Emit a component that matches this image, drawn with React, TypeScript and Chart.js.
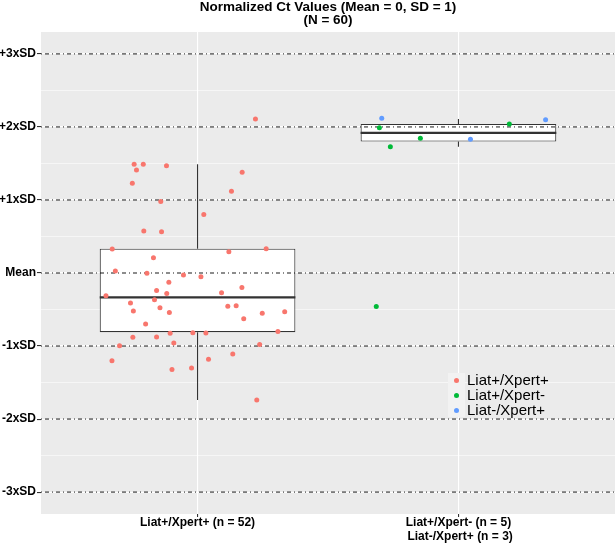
import React, { useEffect, useRef } from 'react';
import { Chart, registerables } from 'chart.js';

Chart.register(...registerables);

// ---- categories & axis labels ----
const categories = [1, 2];
const categoryLabels: (string | string[])[] = [
  'Liat+/Xpert+ (n = 52)',
  ['Liat+/Xpert- (n = 5)', ' Liat-/Xpert+ (n = 3)'],
];
const yTickValues = [-3, -2, -1, 0, 1, 2, 3];
const yTickLabels = ['-3xSD', '-2xSD', '-1xSD', 'Mean', '+1xSD', '+2xSD', '+3xSD'];
const yMinorValues = [-2.5, -1.5, -0.5, 0.5, 1.5, 2.5];

// ---- box statistics per category ----
const boxLow = [-1.74, 1.73];
const boxQ1 = [-0.81, 1.8];
const boxMedian = [-0.333, 1.92];
const boxQ3 = [0.333, 2.04];
const boxHigh = [1.49, 2.11];

// ---- jittered points: Liat+/Xpert+ ----
const posPosX = [
  0.757, 0.792, 0.766, 0.881, 1.171, 0.75, 1.13, 0.859, 1.024, 0.794, 0.862, 0.673, 1.12,
  1.263, 0.831, 0.685, 0.806, 0.946, 1.013, 0.89, 0.843, 1.17, 1.092, 0.882, 0.649, 0.835,
  0.743, 1.116, 1.148, 0.856, 0.754, 0.892, 1.177, 1.248, 1.334, 0.801, 0.895, 0.982, 1.032,
  1.308, 0.752, 0.843, 0.909, 0.701, 1.238, 0.672, 1.135, 1.042, 0.902, 0.977, 1.227, 1.222,
];
const posPosY = [
  1.49, 1.49, 1.41, 1.47, 1.38, 1.23, 1.12, 0.98, 0.8, 0.575, 0.566, 0.33, 0.29,
  0.333, 0.21, 0.027, -0.005, -0.027, -0.05, -0.128, -0.24, -0.2, -0.27, -0.28, -0.31, -0.365,
  -0.41, -0.456, -0.447, -0.475, -0.52, -0.54, -0.626, -0.55, -0.53, -0.7, -0.826, -0.817, -0.82,
  -0.8, -0.88, -0.877, -0.96, -0.995, -0.98, -1.2, -1.11, -1.18, -1.32, -1.3, -1.74, 2.11,
];

// ---- jittered points: Liat+/Xpert- ----
const posNegX = [1.697, 1.739, 1.854, 2.195, 1.685];
const posNegY = [1.99, 1.73, 1.845, 2.04, -0.46];

// ---- jittered points: Liat-/Xpert+ ----
const negPosX = [1.706, 2.046, 2.334];
const negPosY = [2.12, 1.83, 2.1];

const seriesNames = ['Liat+/Xpert+', 'Liat+/Xpert-', 'Liat-/Xpert+'];
const seriesColors = ['#F8766D', '#00BA38', '#619CFF'];

const FONT = "'Liberation Sans', Arial, Helvetica, sans-serif";
const X_MIN = 0.4;
const X_MAX = 2.6;
const BOX_HALF = 0.375;

const panelBg = {
  id: 'panelBg',
  beforeDraw(chart: any) {
    const { ctx, chartArea } = chart;
    if (!chartArea) return;
    ctx.save();
    ctx.fillStyle = '#EBEBEB';
    ctx.fillRect(chartArea.left, chartArea.top, chartArea.right - chartArea.left, chartArea.bottom - chartArea.top);
    ctx.restore();
  },
};

const isInt = (v: number) => Math.abs(v - Math.round(v)) < 1e-6;

export default function App() {
  const canvasRef = useRef<HTMLCanvasElement | null>(null);

  useEffect(() => {
    if (!canvasRef.current) return;
    const toPts = (xs: number[], ys: number[]) => xs.map((x, i) => ({ x, y: ys[i] }));

    const medianData: any[] = [];
    const whiskerData: any[] = [];
    categories.forEach((c, i) => {
      medianData.push({ x: c - BOX_HALF, y: boxMedian[i] }, { x: c + BOX_HALF, y: boxMedian[i] }, { x: c + 0.5, y: null });
      whiskerData.push(
        { x: c, y: boxQ3[i] }, { x: c, y: boxHigh[i] }, { x: c, y: null },
        { x: c, y: boxQ1[i] }, { x: c, y: boxLow[i] }, { x: c, y: null },
      );
    });
    const hlineData: any[] = [];
    yTickValues.forEach((v) => {
      hlineData.push({ x: X_MIN, y: v }, { x: X_MAX, y: v }, { x: X_MAX, y: null });
    });

    const pointDs = (label: string, xs: number[], ys: number[], color: string) => ({
      type: 'scatter',
      label,
      data: toPts(xs, ys),
      pointRadius: 2.5,
      pointHoverRadius: 2.5,
      pointBorderWidth: 0,
      pointBackgroundColor: color,
      backgroundColor: color,
      showLine: false,
    });

    const chart = new Chart(canvasRef.current, {
      type: 'scatter',
      data: {
        datasets: [
          pointDs(seriesNames[0], posPosX, posPosY, seriesColors[0]),
          pointDs(seriesNames[1], posNegX, posNegY, seriesColors[1]),
          pointDs(seriesNames[2], negPosX, negPosY, seriesColors[2]),
          {
            type: 'scatter',
            label: 'hlines',
            data: hlineData,
            showLine: true,
            borderColor: 'rgba(0,0,0,0.9)',
            borderWidth: 1,
            borderDash: [1, 3, 4, 3],
            pointRadius: 0,
            pointHoverRadius: 0,
            spanGaps: false,
          },
          {
            type: 'scatter',
            label: 'median',
            data: medianData,
            showLine: true,
            borderColor: '#333333',
            borderWidth: 2.2,
            pointRadius: 0,
            pointHoverRadius: 0,
            spanGaps: false,
          },
          {
            type: 'scatter',
            label: 'whiskers',
            data: whiskerData,
            showLine: true,
            borderColor: '#333333',
            borderWidth: 1.1,
            pointRadius: 0,
            pointHoverRadius: 0,
            spanGaps: false,
          },
          {
            type: 'bar',
            label: 'boxes',
            data: categories.map((c, i) => ({ x: c, y: [boxQ1[i], boxQ3[i]] })),
            backgroundColor: '#FFFFFF',
            borderColor: '#333333',
            borderWidth: 1.1,
            borderSkipped: false,
            categoryPercentage: 1,
            barPercentage: 0.75,
          },
        ] as any,
      },
      options: {
        animation: false,
        responsive: false,
        events: [],
        layout: { autoPadding: false, padding: { top: 32, left: 0, right: 0, bottom: 0 } },
        plugins: {
          legend: { display: false },
          tooltip: { enabled: false },
          title: { display: false },
        },
        scales: {
          x: {
            type: 'linear',
            min: X_MIN,
            max: X_MAX,
            offset: false,
            afterBuildTicks: (scale: any) => {
              scale.ticks = categories.map((v) => ({ value: v }));
            },
            afterFit: (scale: any) => {
              scale.height = 29;
            },
            ticks: {
              autoSkip: false,
              maxRotation: 0,
              padding: -1,
              color: '#000000',
              font: { family: FONT, size: 12, weight: 'bold', lineHeight: 1.125 },
              callback: (value: any) => {
                const idx = categories.indexOf(Number(value));
                return idx >= 0 ? categoryLabels[idx] : '';
              },
            },
            grid: {
              color: '#FFFFFF',
              lineWidth: 1.1,
              tickLength: 3,
              tickColor: '#333333',
              offset: false,
            },
            border: { display: false },
          },
          y: {
            type: 'linear',
            min: -3.3,
            max: 3.3,
            afterBuildTicks: (scale: any) => {
              scale.ticks = [...yTickValues, ...yMinorValues].sort((a, b) => a - b).map((v) => ({ value: v }));
            },
            afterFit: (scale: any) => {
              scale.width = 41;
            },
            ticks: {
              autoSkip: false,
              padding: 1,
              color: '#000000',
              font: { family: FONT, size: 12, weight: 'bold' },
              callback: (value: any) => {
                const idx = yTickValues.findIndex((t) => Math.abs(t - Number(value)) < 1e-6);
                return idx >= 0 ? yTickLabels[idx] : '';
              },
            },
            grid: {
              color: '#FFFFFF',
              lineWidth: (ctx: any) => (ctx.tick && isInt(ctx.tick.value) ? 1.1 : 0.55),
              tickLength: 4,
              tickColor: (ctx: any) => (ctx.tick && isInt(ctx.tick.value) ? '#333333' : 'rgba(0,0,0,0)'),
            },
            border: { display: false },
          },
        },
      } as any,
      plugins: [panelBg],
    });
    return () => chart.destroy();
  }, []);

  return (
    <div style={{ position: 'fixed', left: 0, top: 0, width: 615, height: 543, background: '#FFFFFF', fontFamily: FONT }}>
      <canvas ref={canvasRef} width={615} height={543} style={{ position: 'absolute', left: 0, top: 0, width: 615, height: 543 }} />
      <div
        style={{
          position: 'absolute',
          left: 41,
          width: 574,
          top: 0,
          textAlign: 'center',
          fontWeight: 'bold',
          fontSize: 13.5,
          lineHeight: '13.3px',
          color: '#000000',
        }}
      >
        <div>Normalized Ct Values (Mean = 0, SD = 1)</div>
        <div>(N = 60)</div>
      </div>
      <div style={{ position: 'absolute', left: 448, top: 373.3 }}>
        {seriesNames.map((name, i) => (
          <div key={name} style={{ display: 'flex', alignItems: 'center', height: 14.7 }}>
            <div
              style={{
                width: 17,
                height: 14.7,
                background: '#F2F2F2',
                display: 'flex',
                alignItems: 'center',
                justifyContent: 'center',
              }}
            >
              <div style={{ width: 5, height: 5, borderRadius: '50%', background: seriesColors[i] }} />
            </div>
            <div style={{ marginLeft: 2, fontSize: 15, lineHeight: '14.7px', color: '#000000', whiteSpace: 'nowrap' }}>{name}</div>
          </div>
        ))}
      </div>
    </div>
  );
}
